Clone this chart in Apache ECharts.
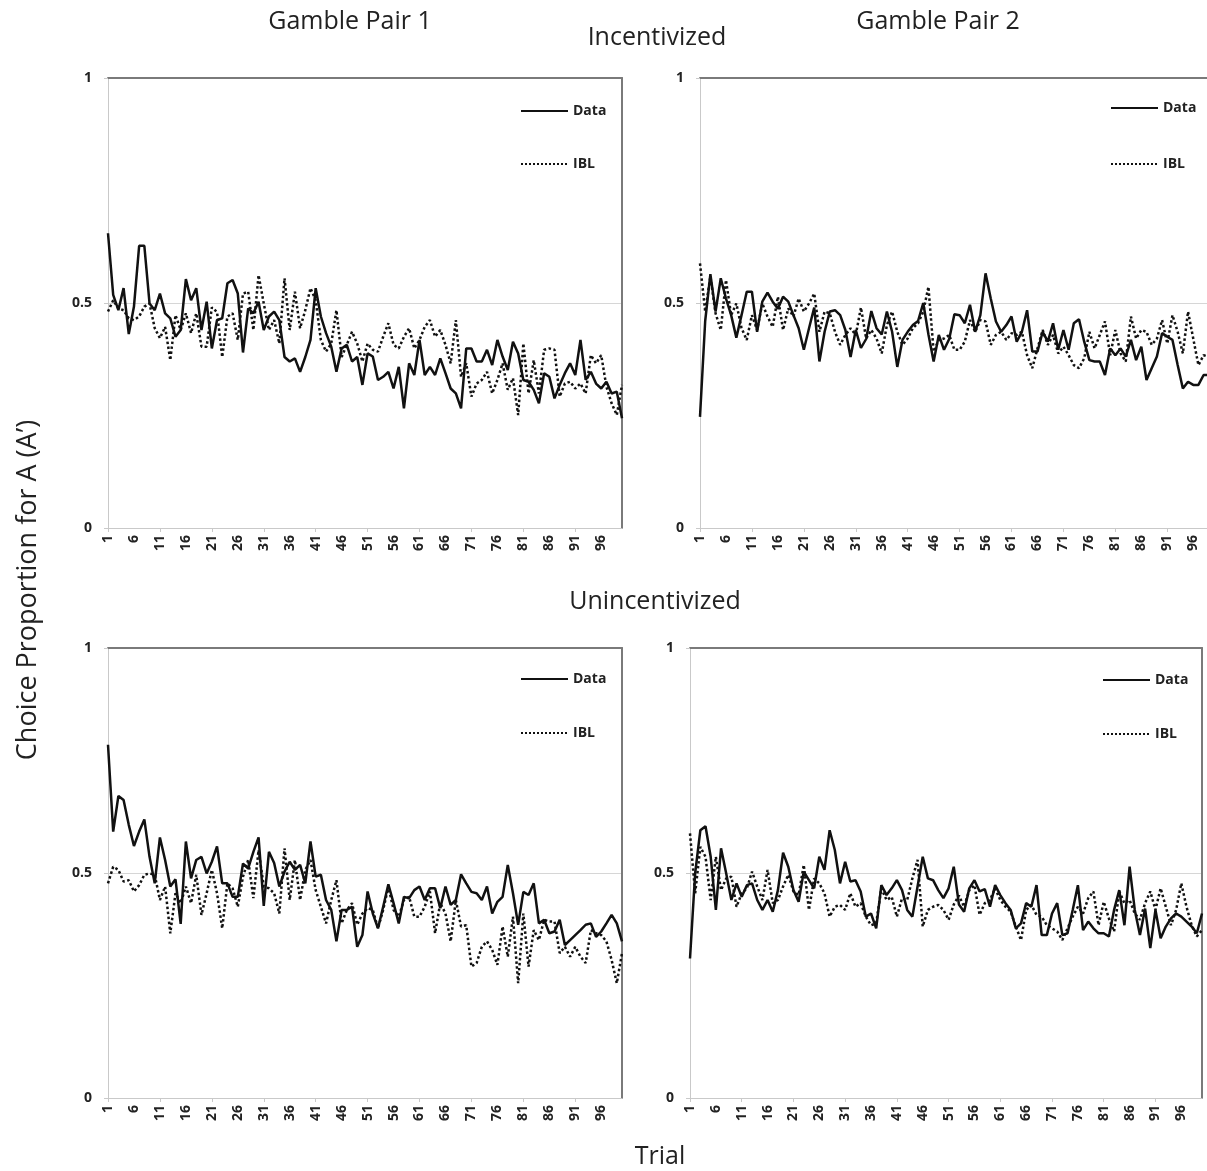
<!doctype html>
<html>
<head>
  <meta charset="utf-8">
  <title>Choice Proportion for A - Data vs IBL</title>
  <script src="https://cdn.jsdelivr.net/npm/echarts@6.0.0/dist/echarts.min.js"></script>
  <style>
    body { margin: 0; background: #fff; }
    #main { width: 1207px; height: 1171px; }
  </style>
</head>
<body>
<div id="main"></div>
<script type="text/javascript">

// trial numbers 1..100 (category axis)
var trials = [];
for (var i = 1; i <= 100; i++) trials.push(String(i));

// Incentivized, Gamble Pair 1
var p1Data = [0.655,0.518,0.484,0.533,0.431,0.492,0.627,0.627,0.499,0.484,0.521,0.477,0.466,0.425,0.44,0.553,0.506,0.533,0.44,0.503,
  0.399,0.462,0.466,0.544,0.551,0.521,0.39,0.488,0.477,0.503,0.44,0.47,0.481,0.462,0.38,0.37,0.377,0.347,0.38,0.418,
  0.533,0.47,0.433,0.403,0.347,0.399,0.407,0.37,0.38,0.318,0.388,0.381,0.329,0.336,0.347,0.31,0.358,0.266,0.366,0.34,
  0.418,0.34,0.358,0.34,0.377,0.344,0.31,0.299,0.266,0.399,0.399,0.37,0.37,0.396,0.362,0.418,0.381,0.351,0.414,0.388,
  0.329,0.325,0.307,0.277,0.344,0.336,0.288,0.318,0.344,0.366,0.34,0.418,0.329,0.347,0.321,0.31,0.325,0.299,0.303,0.244];
var p1IBL = [0.481,0.506,0.488,0.484,0.466,0.462,0.47,0.492,0.499,0.444,0.422,0.447,0.373,0.473,0.44,0.477,0.433,0.477,0.403,0.403,
  0.49,0.48,0.38,0.47,0.477,0.418,0.521,0.525,0.44,0.562,0.499,0.44,0.462,0.41,0.555,0.44,0.525,0.444,0.484,0.533,
  0.506,0.418,0.392,0.41,0.484,0.38,0.407,0.436,0.41,0.37,0.41,0.396,0.392,0.425,0.455,0.407,0.399,0.425,0.444,0.399,
  0.418,0.447,0.462,0.425,0.44,0.407,0.366,0.462,0.336,0.366,0.292,0.321,0.329,0.347,0.299,0.329,0.366,0.307,0.333,0.251,
  0.41,0.299,0.373,0.299,0.396,0.399,0.396,0.292,0.321,0.325,0.31,0.321,0.299,0.384,0.366,0.384,0.314,0.277,0.251,0.318];

// Incentivized, Gamble Pair 2
var p2Data = [0.247,0.46,0.564,0.481,0.555,0.51,0.473,0.423,0.473,0.525,0.525,0.436,0.503,0.523,0.503,0.487,0.514,0.503,0.473,0.444,
  0.396,0.444,0.49,0.37,0.436,0.481,0.484,0.473,0.44,0.38,0.44,0.4,0.42,0.482,0.444,0.43,0.481,0.436,0.358,0.418,
  0.436,0.451,0.46,0.5,0.43,0.37,0.429,0.396,0.42,0.475,0.473,0.455,0.496,0.436,0.473,0.566,0.51,0.459,0.436,0.451,
  0.47,0.414,0.436,0.484,0.392,0.392,0.436,0.414,0.455,0.396,0.44,0.396,0.455,0.464,0.414,0.373,0.37,0.37,0.34,0.399,
  0.384,0.399,0.381,0.418,0.373,0.403,0.329,0.355,0.381,0.433,0.425,0.418,0.362,0.31,0.325,0.318,0.318,0.34,0.34,0.35];
var p2IBL = [0.588,0.481,0.559,0.477,0.44,0.551,0.473,0.499,0.444,0.418,0.473,0.44,0.499,0.47,0.447,0.514,0.44,0.488,0.47,0.51,
  0.481,0.499,0.521,0.436,0.481,0.477,0.436,0.407,0.429,0.444,0.429,0.49,0.421,0.44,0.421,0.388,0.451,0.481,0.436,0.407,
  0.421,0.444,0.455,0.481,0.536,0.392,0.418,0.421,0.429,0.396,0.396,0.414,0.462,0.436,0.462,0.459,0.407,0.429,0.436,0.418,
  0.433,0.429,0.436,0.384,0.355,0.399,0.44,0.407,0.429,0.388,0.403,0.384,0.362,0.355,0.377,0.436,0.399,0.429,0.459,0.384,
  0.44,0.388,0.37,0.47,0.421,0.44,0.436,0.407,0.421,0.462,0.41,0.473,0.436,0.388,0.481,0.421,0.362,0.384,0.38,0.39];

// Unincentivized, Gamble Pair 1
var p3Data = [0.785,0.592,0.671,0.662,0.607,0.56,0.592,0.619,0.536,0.477,0.579,0.529,0.47,0.486,0.387,0.57,0.488,0.529,0.536,0.499,
  0.525,0.559,0.477,0.477,0.447,0.447,0.521,0.51,0.547,0.579,0.427,0.547,0.522,0.47,0.503,0.525,0.507,0.518,0.477,0.57,
  0.492,0.496,0.44,0.418,0.348,0.418,0.418,0.425,0.336,0.362,0.459,0.41,0.377,0.425,0.475,0.433,0.388,0.447,0.444,0.462,
  0.47,0.44,0.466,0.466,0.422,0.47,0.429,0.44,0.497,0.477,0.458,0.455,0.44,0.47,0.41,0.436,0.447,0.518,0.455,0.385,
  0.458,0.451,0.477,0.388,0.396,0.366,0.37,0.396,0.34,0.351,0.362,0.373,0.385,0.388,0.358,0.37,0.388,0.407,0.388,0.348];
var p3IBL = [0.477,0.514,0.507,0.481,0.484,0.459,0.473,0.496,0.499,0.496,0.44,0.47,0.366,0.455,0.433,0.47,0.433,0.496,0.407,0.455,
  0.507,0.455,0.377,0.477,0.466,0.425,0.492,0.529,0.444,0.551,0.47,0.466,0.455,0.41,0.555,0.44,0.529,0.44,0.507,0.529,
  0.462,0.425,0.388,0.44,0.484,0.388,0.418,0.433,0.385,0.41,0.422,0.418,0.377,0.418,0.47,0.418,0.403,0.44,0.447,0.403,
  0.403,0.425,0.459,0.366,0.433,0.41,0.348,0.44,0.381,0.384,0.292,0.3,0.336,0.348,0.329,0.296,0.381,0.314,0.403,0.255,
  0.41,0.292,0.373,0.351,0.396,0.392,0.392,0.322,0.336,0.314,0.336,0.314,0.3,0.373,0.366,0.362,0.348,0.307,0.255,0.322];

// Unincentivized, Gamble Pair 2
var p4Data = [0.31,0.5,0.595,0.604,0.536,0.418,0.555,0.499,0.44,0.477,0.447,0.473,0.477,0.44,0.418,0.44,0.414,0.462,0.545,0.514,
  0.462,0.436,0.503,0.484,0.466,0.536,0.507,0.595,0.551,0.477,0.525,0.481,0.484,0.459,0.403,0.41,0.377,0.473,0.451,0.466,
  0.484,0.462,0.418,0.403,0.47,0.536,0.488,0.484,0.462,0.444,0.466,0.514,0.43,0.414,0.466,0.484,0.459,0.464,0.425,0.473,
  0.451,0.433,0.418,0.377,0.388,0.433,0.425,0.473,0.362,0.362,0.41,0.433,0.362,0.366,0.418,0.473,0.373,0.392,0.377,0.366,
  0.366,0.359,0.418,0.462,0.384,0.514,0.418,0.362,0.421,0.333,0.418,0.355,0.381,0.399,0.41,0.403,0.392,0.381,0.366,0.41];
var p4IBL = [0.588,0.455,0.558,0.536,0.44,0.536,0.462,0.488,0.492,0.425,0.455,0.466,0.503,0.47,0.44,0.507,0.433,0.44,0.47,0.496,
  0.459,0.451,0.518,0.418,0.488,0.477,0.455,0.403,0.425,0.429,0.418,0.455,0.425,0.433,0.403,0.384,0.388,0.466,0.44,0.447,
  0.403,0.444,0.44,0.488,0.529,0.381,0.418,0.425,0.429,0.418,0.396,0.43,0.45,0.425,0.462,0.473,0.407,0.433,0.44,0.466,
  0.44,0.425,0.414,0.381,0.351,0.418,0.429,0.407,0.403,0.384,0.377,0.37,0.351,0.377,0.403,0.425,0.41,0.444,0.459,0.384,
  0.436,0.399,0.37,0.459,0.433,0.44,0.41,0.396,0.433,0.459,0.418,0.466,0.425,0.384,0.418,0.477,0.425,0.384,0.359,0.373];

var yTicks = [0, 0.5, 1];

var FONT = '"Open Sans", "DejaVu Sans", sans-serif';
var INK = '#222';
var AXIS_LIGHT = '#c9c9c9';
var BORDER = '#7a7a7a';

// panel boxes: left, top, width, height
var panels = [
  {left: 108, top: 78,  width: 514, height: 450, data: p1Data, ibl: p1IBL},
  {left: 700, top: 78,  width: 514, height: 450, data: p2Data, ibl: p2IBL},
  {left: 108, top: 648, width: 514, height: 450, data: p3Data, ibl: p3IBL},
  {left: 690, top: 648, width: 512, height: 450, data: p4Data, ibl: p4IBL}
];

// legend positions per panel
var legendPos = [
  {left: 515,  top: 99,  gap: 39},
  {left: 1105, top: 96,  gap: 42},
  {left: 515,  top: 667, gap: 40},
  {left: 1097, top: 668, gap: 40}
];

var grids = [], xAxes = [], yAxes = [], series = [], legends = [];

panels.forEach(function (p, k) {
  grids.push({left: p.left, top: p.top, width: p.width, height: p.height,
    containLabel: false, outerBoundsMode: 'none'});

  // bottom axis with trial labels
  xAxes.push({
    type: 'category', gridIndex: k, data: trials, boundaryGap: false, position: 'bottom',
    axisLine: {onZero: false, lineStyle: {color: AXIS_LIGHT, width: 1}},
    axisTick: {show: true, interval: 9, length: 4, lineStyle: {color: AXIS_LIGHT}},
    axisLabel: {interval: 4, rotate: 90, margin: 7, color: INK, fontSize: 14,
      fontWeight: 'bold', fontFamily: FONT},
    splitLine: {show: false}
  });
  // top border line
  xAxes.push({
    type: 'category', gridIndex: k, data: trials, boundaryGap: false, position: 'top',
    axisLine: {onZero: false, lineStyle: {color: BORDER, width: 2}},
    axisTick: {show: false}, axisLabel: {show: false}, splitLine: {show: false}
  });

  yAxes.push({
    type: 'value', gridIndex: k, min: 0, max: 1, interval: 0.5, position: 'left',
    axisLine: {show: true, onZero: false, lineStyle: {color: AXIS_LIGHT, width: 1}},
    axisTick: {show: true, length: 4, lineStyle: {color: AXIS_LIGHT}},
    axisLabel: {margin: 16, color: INK, fontSize: 14, fontWeight: 'bold', fontFamily: FONT,
      formatter: function (v) { return yTicks.indexOf(v) >= 0 ? String(v) : ''; }},
    splitLine: {show: true, lineStyle: {color: '#d6d6d6', width: 1}}
  });
  // right border line
  yAxes.push({
    type: 'value', gridIndex: k, min: 0, max: 1, position: 'right',
    axisLine: {show: true, onZero: false, lineStyle: {color: BORDER, width: 2}},
    axisTick: {show: false}, axisLabel: {show: false}, splitLine: {show: false}
  });

  series.push({
    name: 'Data', type: 'line', xAxisIndex: 2 * k, yAxisIndex: 2 * k,
    data: p.data, symbol: 'none', showSymbol: false, smooth: false,
    lineStyle: {color: '#111', width: 2.5, type: 'solid'}, itemStyle: {color: '#111'},
    z: 3
  });
  series.push({
    name: 'IBL', type: 'line', xAxisIndex: 2 * k, yAxisIndex: 2 * k,
    data: p.ibl, symbol: 'none', showSymbol: false, smooth: false,
    lineStyle: {color: '#111', width: 2.5, type: 'dotted'}, itemStyle: {color: '#111'},
    z: 2
  });

  var lp = legendPos[k];
  legends.push({
    data: ['Data', 'IBL'], orient: 'vertical', left: lp.left, top: lp.top,
    itemWidth: 47, itemHeight: 14, itemGap: lp.gap, selectedMode: false,
    itemStyle: {opacity: 0},
    textStyle: {color: INK, fontSize: 14, fontWeight: 'bold', fontFamily: FONT}
  });
});

function label(text, x, y, size, rot) {
  return {
    type: 'text', x: x, y: y, rotation: rot || 0, silent: true,
    style: {text: text, align: 'center', verticalAlign: 'middle',
      font: size + 'px ' + FONT, fill: INK}
  };
}

var chart = echarts.init(document.getElementById('main'), null, {renderer: 'canvas'});

var option = {
  backgroundColor: '#fff',
  animation: false,
  grid: grids,
  xAxis: xAxes,
  yAxis: yAxes,
  legend: legends,
  series: series,
  graphic: [
    label('Gamble Pair 1', 350, 22, 25),
    label('Gamble Pair 2', 938, 22, 25),
    label('Incentivized', 657, 38, 25),
    label('Unincentivized', 655, 602, 25),
    label('Trial', 660, 1157, 25),
    label('Choice Proportion for A (A\u2019)', 28, 590, 27, Math.PI / 2)
  ]
};

chart.setOption(option);
</script>
</body>
</html>
